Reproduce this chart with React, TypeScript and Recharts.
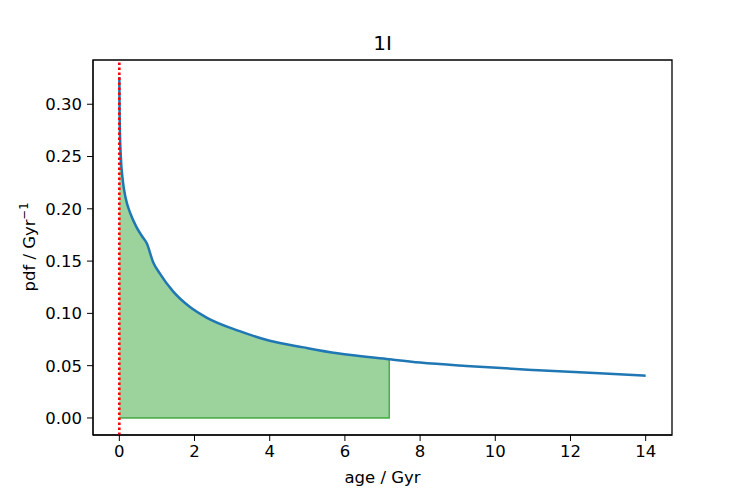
import {
  ComposedChart,
  Line,
  Area,
  XAxis,
  YAxis,
  ReferenceLine,
  ReferenceArea,
} from 'recharts';

// age (Gyr) and pdf values
const ages = [
  0, 0.005, 0.015, 0.04, 0.09, 0.17, 0.3, 0.45, 0.6, 0.73, 0.9, 1.08, 1.43, 1.88, 2.32, 3.2, 4.0,
  4.9, 5.8, 7.18, 8.0, 9.23, 11.0, 12.77, 14.0,
];
const pdfValues = [
  0.326, 0.3, 0.275, 0.25, 0.228, 0.21, 0.195, 0.183, 0.174, 0.167, 0.149, 0.138, 0.121, 0.106,
  0.096, 0.083, 0.0738, 0.0675, 0.0618, 0.0561, 0.053, 0.0497, 0.0459, 0.0427, 0.0404,
];
const fillEnd = 7.18;
const xTicks = [0, 2, 4, 6, 8, 10, 12, 14];
const yTicks = [0, 0.05, 0.1, 0.15, 0.2, 0.25, 0.3];
const xDomain = [-0.7, 14.7];
const yDomain = [-0.0163, 0.3423];

const data = ages.map((age, i) => ({
  age,
  pdf: pdfValues[i],
  fill: age <= fillEnd ? pdfValues[i] : undefined,
}));

const endValue = pdfValues[ages.indexOf(fillEnd)];
const edgeData = [
  { age: 0, edge: 0 },
  { age: fillEnd, edge: 0 },
  { age: fillEnd, edge: endValue },
];

const font = '"DejaVu Sans", sans-serif';
const tickFont = 16.5;

if (typeof document !== 'undefined') document.body.style.margin = '0';

export default function App() {
  return (
    <div style={{ position: 'relative', width: 747, height: 498, background: '#fff', fontFamily: font }}>
      <ComposedChart
        width={747}
        height={498}
        data={data}
        margin={{ top: 60, right: 75, bottom: 33, left: 23 }}
      >
        <XAxis
          dataKey="age"
          type="number"
          domain={xDomain}
          ticks={xTicks}
          allowDataOverflow
          height={30}
          tickSize={6}
          tickMargin={4}
          stroke="#000"
          tick={{ fill: '#000', fontSize: tickFont, fontFamily: font }}
        />
        <YAxis
          type="number"
          domain={yDomain}
          ticks={yTicks}
          allowDataOverflow
          width={70}
          tickSize={6}
          tickMargin={5}
          stroke="#000"
          tickFormatter={(v: number) => v.toFixed(2)}
          tick={{ fill: '#000', fontSize: tickFont, fontFamily: font }}
        />
        <Area
          dataKey="fill"
          type="monotone"
          baseValue={0}
          fill="#2ca02c"
          fillOpacity={0.47}
          stroke="none"
          isAnimationActive={false}
        />
        <Line
          data={edgeData}
          dataKey="edge"
          type="linear"
          stroke="#2ca02c"
          strokeOpacity={0.85}
          strokeWidth={1.4}
          dot={false}
          isAnimationActive={false}
        />
        <Line
          dataKey="pdf"
          type="monotone"
          stroke="#1f77b4"
          strokeWidth={2.5}
          dot={false}
          isAnimationActive={false}
        />
        <ReferenceLine x={0} stroke="red" strokeWidth={2.6} strokeDasharray="2.5 2.5" ifOverflow="visible" />
        <ReferenceArea
          x1={xDomain[0]}
          x2={xDomain[1]}
          y1={yDomain[0]}
          y2={yDomain[1]}
          fill="none"
          stroke="#000"
          strokeWidth={1.3}
          ifOverflow="visible"
        />
      </ComposedChart>
      <div
        style={{
          position: 'absolute',
          left: 93,
          width: 579,
          top: 31,
          textAlign: 'center',
          fontSize: 20,
          lineHeight: '24px',
        }}
      >
        1I
      </div>
      <div
        style={{
          position: 'absolute',
          left: 93,
          width: 579,
          top: 467,
          textAlign: 'center',
          fontSize: tickFont,
          lineHeight: '22px',
        }}
      >
        age / Gyr
      </div>
      <div
        style={{
          position: 'absolute',
          left: 27,
          top: 247,
          transform: 'translate(-50%, -50%) rotate(-90deg)',
          whiteSpace: 'nowrap',
          fontSize: tickFont,
          lineHeight: '20px',
        }}
      >
        pdf / Gyr<sup style={{ fontSize: 11.5 }}>−1</sup>
      </div>
    </div>
  );
}
